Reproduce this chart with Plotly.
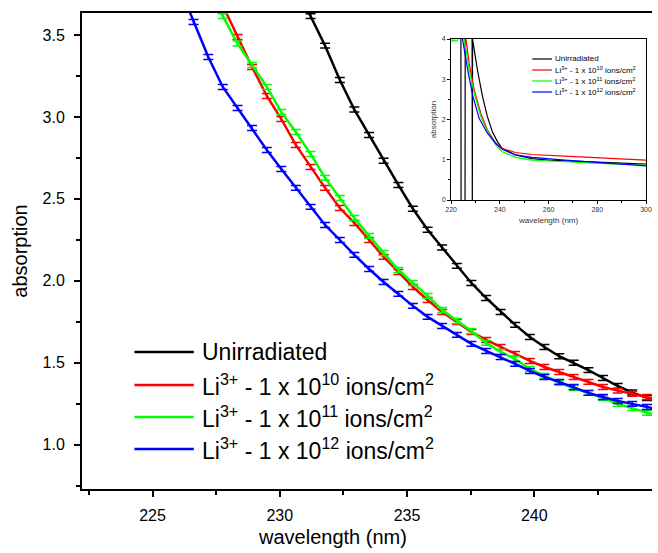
import plotly.graph_objects as go

# ---------------- main panel data ----------------
wavelength = [226.04, 226.61, 227.19, 227.76, 228.34, 228.91, 229.49, 230.06, 230.63,
              231.21, 231.78, 232.36, 232.93, 233.51, 234.08, 234.66, 235.23, 235.81,
              236.38, 236.96, 237.53, 238.11, 238.68, 239.25, 239.83, 240.40, 240.98,
              241.55, 242.13, 242.70, 243.28, 243.85, 244.43, 245.00]

unirradiated = [None] * 8 + [3.78, 3.615, 3.435, 3.225, 3.045, 2.890, 2.733, 2.585, 2.440,
                             2.312, 2.203, 2.091, 1.987, 1.895, 1.810, 1.731, 1.657, 1.596,
                             1.540, 1.500, 1.455, 1.407, 1.358, 1.318, 1.285, 1.255]
li_1e10 = [None] * 3 + [3.68, 3.488, 3.305, 3.128, 2.987, 2.829, 2.695, 2.567, 2.444, 2.353,
                        2.249, 2.146, 2.054, 1.962, 1.883, 1.810, 1.749, 1.688, 1.639, 1.596,
                        1.554, 1.511, 1.474, 1.444, 1.413, 1.383, 1.352, 1.330, 1.310, 1.291,
                        1.270]
li_1e11 = [None] * 2 + [3.80, 3.615, 3.448, 3.317, 3.183, 3.030, 2.908, 2.774, 2.628, 2.505,
                        2.383, 2.274, 2.170, 2.066, 1.987, 1.908, 1.822, 1.755, 1.694, 1.621,
                        1.566, 1.523, 1.462, 1.420, 1.377, 1.346, 1.316, 1.285, 1.249, 1.224,
                        1.194, 1.169]
li_1e12 = [3.80, 3.579, 3.366, 3.183, 3.055, 2.933, 2.798, 2.682, 2.567, 2.451, 2.341, 2.249,
           2.158, 2.072, 1.993, 1.920, 1.847, 1.780, 1.724, 1.670, 1.615, 1.572, 1.535, 1.493,
           1.450, 1.413, 1.383, 1.352, 1.316, 1.291, 1.267, 1.249, 1.230, 1.212]
abs_error = 0.015

series_names = ["Unirradiated",
                "Li<sup>3+</sup> - 1 x 10<sup>10</sup> ions/cm<sup>2</sup>",
                "Li<sup>3+</sup> - 1 x 10<sup>11</sup> ions/cm<sup>2</sup>",
                "Li<sup>3+</sup> - 1 x 10<sup>12</sup> ions/cm<sup>2</sup>"]
colors = ["#000000", "#ff0000", "#00ff00", "#0000ff"]

x_ticks = [225, 230, 235, 240]
x_minor = [222.5, 227.5, 232.5, 237.5, 242.5]
y_ticks = [1.0, 1.5, 2.0, 2.5, 3.0, 3.5]
y_minor = [0.75, 1.25, 1.75, 2.25, 2.75, 3.25]

# ---------------- inset data ----------------
inset_unirr_x = [220.0, 224.0, 224.1, 225.7, 225.8, 228.6, 228.7, 228.8, 230.8, 232.9, 234.9,
                 236.9, 239.0, 241.0, 246.4, 253.2, 259.9, 273.5, 287.0, 300.0]
inset_unirr_y = [4.5, 4.5, -0.5, -0.5, 4.5, 4.5, -0.5, 3.99, 3.23, 2.57, 2.07, 1.70, 1.45,
                 1.28, 1.12, 1.03, 0.99, 0.95, 0.91, 0.89]
inset_1e10_x = [224.0, 226.1, 227.4, 229.5, 232.2, 234.9, 238.3, 241.0, 246.4, 253.2, 266.7,
                280.2, 300.0]
inset_1e10_y = [4.5, 3.99, 3.40, 2.73, 2.15, 1.74, 1.41, 1.28, 1.18, 1.13, 1.09, 1.05, 0.99]
inset_1e11_x = [220.0, 220.5, 221.2, 222.0, 222.7, 223.0, 225.0, 225.4, 227.4, 229.5, 232.2,
                234.9, 238.3, 241.0, 246.4, 253.2, 266.7, 280.2, 300.0]
inset_1e11_y = [4.3, 3.93, 3.98, 3.94, 3.97, 4.5, 4.5, 3.99, 3.23, 2.65, 2.07, 1.70, 1.37,
                1.20, 1.06, 0.99, 0.95, 0.91, 0.87]
inset_1e12_x = [223.5, 224.7, 226.8, 228.8, 231.5, 234.9, 238.3, 241.0, 246.4, 253.2, 266.7,
                280.2, 300.0]
inset_1e12_y = [4.5, 3.99, 3.23, 2.61, 2.03, 1.66, 1.41, 1.26, 1.12, 1.06, 0.99, 0.93, 0.85]

FONT = "Liberation Sans, Arial, sans-serif"
W, H = 658, 553
ML, MR, MT, MB = 82, 0, 13, 64
PW, PH = W - ML - MR, H - MT - MB


def fx(px):
    return (px - ML) / PW


def fy(py):
    return (H - MB - py) / PH


fig = go.Figure()

main_vals = [unirradiated, li_1e10, li_1e11, li_1e12]
for vals, col in zip(main_vals, colors):
    fig.add_trace(go.Scatter(
        x=wavelength, y=vals, mode="lines",
        line=dict(color=col, width=2.5),
        error_y=dict(type="constant", value=abs_error, color=col, thickness=1.5, width=5),
        showlegend=False, xaxis="x", yaxis="y", hoverinfo="skip"))

inset = [(inset_unirr_x, inset_unirr_y), (inset_1e10_x, inset_1e10_y),
         (inset_1e11_x, inset_1e11_y), (inset_1e12_x, inset_1e12_y)]
for (ix, iy), col in zip(inset, colors):
    fig.add_trace(go.Scatter(
        x=ix, y=iy, mode="lines", line=dict(color=col, width=1.2),
        showlegend=False, xaxis="x2", yaxis="y2", hoverinfo="skip"))

shapes = []
annotations = []
# main legend
for name, col, row in zip(series_names, colors, [352, 385, 417, 449]):
    shapes.append(dict(type="line", xref="paper", yref="paper",
                       x0=fx(135), x1=fx(195), y0=fy(row), y1=fy(row),
                       line=dict(color=col, width=2.5)))
    annotations.append(dict(text=name, xref="paper", yref="paper", x=fx(201), y=fy(row),
                            xanchor="left", yanchor="middle", showarrow=False,
                            font=dict(family=FONT, size=23, color="black")))
# inset legend
for name, col, row in zip(series_names, colors, [59, 70, 81, 92]):
    shapes.append(dict(type="line", xref="paper", yref="paper",
                       x0=fx(537), x1=fx(557), y0=fy(row), y1=fy(row),
                       line=dict(color=col, width=1.2)))
    annotations.append(dict(text=name, xref="paper", yref="paper", x=fx(558), y=fy(row),
                            xanchor="left", yanchor="middle", showarrow=False,
                            font=dict(family=FONT, size=8, color="black")))
# main x-axis title (sits left of the plot centre in the reference)
annotations.append(dict(text="wavelength (nm)", xref="paper", yref="paper",
                        x=fx(335), y=fy(537), xanchor="center", yanchor="middle",
                        showarrow=False, font=dict(family=FONT, size=20, color="black")))

fig.update_layout(
    width=W, height=H,
    margin=dict(l=ML, r=MR, t=MT, b=MB, pad=0),
    paper_bgcolor="white", plot_bgcolor="white",
    font=dict(family=FONT, color="black"),
    shapes=shapes, annotations=annotations,
    xaxis=dict(domain=[0, 1], range=[222.227, 244.628], anchor="y",
               showline=True, linecolor="black", linewidth=2, mirror=True,
               ticks="outside", ticklen=6, tickwidth=2, tickcolor="black",
               tickvals=x_ticks, ticktext=[str(v) for v in x_ticks],
               minor=dict(tickvals=x_minor, ticks="outside",
                          ticklen=4, tickwidth=2, tickcolor="black"),
               tickfont=dict(size=16, family=FONT, color="black"),
               ticklabelstandoff=5,
               showgrid=False, zeroline=False),
    yaxis=dict(domain=[0, 1], range=[0.7295, 3.6343], anchor="x",
               showline=True, linecolor="black", linewidth=2, mirror=False,
               ticks="outside", ticklen=6, tickwidth=2, tickcolor="black",
               tickvals=y_ticks, ticktext=[f"{v:.1f}" for v in y_ticks],
               minor=dict(tickvals=y_minor, ticks="outside",
                          ticklen=4, tickwidth=2, tickcolor="black"),
               tickfont=dict(size=16, family=FONT, color="black"),
               ticklabelstandoff=6,
               showgrid=False, zeroline=False,
               title=dict(text="absorption", font=dict(size=20, family=FONT),
                          standoff=10)),
    xaxis2=dict(domain=[fx(455), fx(652)], range=[220, 300], anchor="y2",
                showline=True, linecolor="black", linewidth=1, mirror=True,
                ticks="outside", ticklen=3, tickwidth=1, tickcolor="black",
                tickvals=[220, 240, 260, 280, 300],
                minor=dict(tickvals=[230, 250, 270, 290], ticks="outside", ticklen=2,
                           tickwidth=1, tickcolor="black"),
                tickfont=dict(size=7, family=FONT, color="#333333"),
                showgrid=False, zeroline=False,
                title=dict(text="wavelength (nm)", font=dict(size=8, family=FONT, color="#333333"),
                           standoff=4)),
    yaxis2=dict(domain=[fy(200), fy(39)], range=[0, 4], anchor="x2",
                showline=True, linecolor="black", linewidth=1, mirror=True,
                ticks="outside", ticklen=3, tickwidth=1, tickcolor="black",
                tickvals=[0, 1, 2, 3, 4],
                minor=dict(tickvals=[0.5, 1.5, 2.5, 3.5], ticks="outside", ticklen=2,
                           tickwidth=1, tickcolor="black"),
                tickfont=dict(size=7, family=FONT, color="#333333"),
                showgrid=False, zeroline=False,
                title=dict(text="absorption", font=dict(size=8, family=FONT, color="#333333"),
                           standoff=4)),
)

fig.write_html("out.html")
